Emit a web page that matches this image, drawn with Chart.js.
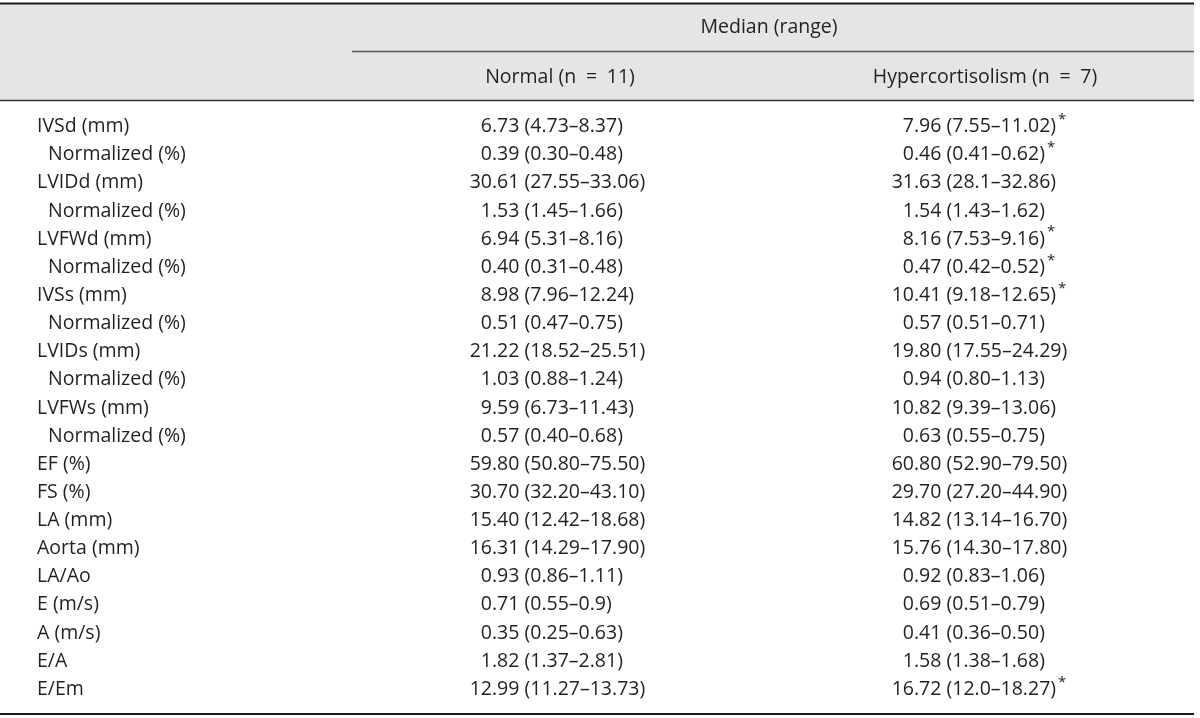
<!DOCTYPE html>
<html>
<head>
<meta charset="utf-8">
<script src="https://cdn.jsdelivr.net/npm/chart.js@4"></script>
<style>
  html, body { margin: 0; padding: 0; background: #fff; }
  #wrap { width: 1200px; height: 718px; position: relative; }
</style>
</head>
<body>
<div id="wrap"><canvas id="tbl"></canvas></div>
<script>
// ── Table data ──
const rowLabels = [
  "IVSd (mm)", "Normalized (%)", "LVIDd (mm)", "Normalized (%)",
  "LVFWd (mm)", "Normalized (%)", "IVSs (mm)", "Normalized (%)",
  "LVIDs (mm)", "Normalized (%)", "LVFWs (mm)", "Normalized (%)",
  "EF (%)", "FS (%)", "LA (mm)", "Aorta (mm)", "LA/Ao",
  "E (m/s)", "A (m/s)", "E/A", "E/Em"
];
const rowIndent = [0,1,0,1,0,1,0,1,0,1,0,1,0,0,0,0,0,0,0,0,0];

const normalMedian = ["6.73","0.39","30.61","1.53","6.94","0.40","8.98","0.51","21.22","1.03","9.59","0.57",
  "59.80","30.70","15.40","16.31","0.93","0.71","0.35","1.82","12.99"];
const normalLow  = ["4.73","0.30","27.55","1.45","5.31","0.31","7.96","0.47","18.52","0.88","6.73","0.40",
  "50.80","32.20","12.42","14.29","0.86","0.55","0.25","1.37","11.27"];
const normalHigh = ["8.37","0.48","33.06","1.66","8.16","0.48","12.24","0.75","25.51","1.24","11.43","0.68",
  "75.50","43.10","18.68","17.90","1.11","0.9","0.63","2.81","13.73"];

const hyperMedian = ["7.96","0.46","31.63","1.54","8.16","0.47","10.41","0.57","19.80","0.94","10.82","0.63",
  "60.80","29.70","14.82","15.76","0.92","0.69","0.41","1.58","16.72"];
const hyperLow  = ["7.55","0.41","28.1","1.43","7.53","0.42","9.18","0.51","17.55","0.80","9.39","0.55",
  "52.90","27.20","13.14","14.30","0.83","0.51","0.36","1.38","12.0"];
const hyperHigh = ["11.02","0.62","32.86","1.62","9.16","0.52","12.65","0.71","24.29","1.13","13.06","0.75",
  "79.50","44.90","16.70","17.80","1.06","0.79","0.50","1.68","18.27"];
const hyperStar = [1,1,0,0,1,1,1,0,0,0,0,0,0,0,0,0,0,0,0,0,1];

const spanHeader = "Median (range)";
const colHeaders = ["Normal (n\u2002=\u200211)", "Hypercortisolism (n\u2002=\u20027)"];

// ── Layout (pixels) ──
const FONT = "'Open Sans', sans-serif";
const FS = 19.5;
const INK = "#231f20";
const colX = { label: 37, indent: 48, normal: 492, hyper: 914 };

// one invisible point per cell, so positions come from the scales
const yCats = rowLabels.map((lab, i) => lab + "#" + i);
const cellPoints = (col) => yCats.map(c => ({ x: colX[col], y: c }));

const tablePlugin = {
  id: "tablePlugin",
  beforeDraw(chart) {
    const { ctx } = chart;
    const right = 1194;
    ctx.save();
    // header shading
    ctx.fillStyle = "#e5e5e5";
    ctx.fillRect(0, 4, right, 96);
    // rules
    ctx.strokeStyle = "#1a1a1a";
    ctx.lineWidth = 2.2;
    ctx.beginPath(); ctx.moveTo(0, 3.5); ctx.lineTo(right, 3.5); ctx.stroke();
    ctx.beginPath(); ctx.moveTo(0, 714); ctx.lineTo(right, 714); ctx.stroke();
    ctx.lineWidth = 1.5;
    ctx.strokeStyle = "#333";
    ctx.beginPath(); ctx.moveTo(0, 100.5); ctx.lineTo(right, 100.5); ctx.stroke();
    ctx.strokeStyle = "#555";
    ctx.beginPath(); ctx.moveTo(352, 51.5); ctx.lineTo(right, 51.5); ctx.stroke();

    ctx.fillStyle = INK;
    ctx.font = FS + "px " + FONT;
    ctx.textBaseline = "middle";
    ctx.textAlign = "center";
    ctx.fillText(spanHeader, 769, 27);
    ctx.fillText(colHeaders[0], 560, 77);
    ctx.fillText(colHeaders[1], 985, 77);
    ctx.restore();
  },
  afterDatasetsDraw(chart) {
    const { ctx } = chart;
    const ys = chart.scales.y;
    ctx.save();
    ctx.fillStyle = INK;
    ctx.textBaseline = "middle";
    ctx.font = FS + "px " + FONT;

    const drawVal = (x, y, med, lo, hi, star) => {
      const dot = med.indexOf(".");
      const intPart = med.slice(0, dot);
      const rest = med.slice(dot) + " (" + lo + "\u2013" + hi + ")";
      ctx.textAlign = "right";
      ctx.fillText(intPart, x, y);
      ctx.textAlign = "left";
      ctx.fillText(rest, x, y);
      if (star) {
        const w = ctx.measureText(rest).width;
        ctx.font = "15px " + FONT;
        ctx.fillText("*", x + w + 2, y - 7);
        ctx.font = FS + "px " + FONT;
      }
    };

    const lab = chart.getDatasetMeta(0).data;
    const nor = chart.getDatasetMeta(1).data;
    const hyp = chart.getDatasetMeta(2).data;
    rowLabels.forEach((label, i) => {
      const y = ys.getPixelForValue(i);
      ctx.textAlign = "left";
      ctx.fillText(label, rowIndent[i] ? colX.indent : lab[i].x, y);
      drawVal(nor[i].x, y, normalMedian[i], normalLow[i], normalHigh[i], 0);
      drawVal(hyp[i].x, y, hyperMedian[i], hyperLow[i], hyperHigh[i], hyperStar[i]);
    });
    ctx.restore();
  }
};

new Chart(document.getElementById("tbl"), {
  type: "scatter",
  data: {
    datasets: [
      { label: "label", data: cellPoints("label"), pointRadius: 0 },
      { label: "Normal", data: cellPoints("normal"), pointRadius: 0 },
      { label: "Hypercortisolism", data: cellPoints("hyper"), pointRadius: 0 }
    ]
  },
  options: {
    responsive: true, maintainAspectRatio: false, animation: false,
    layout: { padding: { top: 112.6, bottom: 14.6, left: 0, right: 0 } },
    plugins: { legend: { display: false }, tooltip: { enabled: false } },
    scales: {
      x: { type: "linear", min: 0, max: 1200, display: false },
      y: { type: "category", labels: yCats, offset: true, display: false }
    }
  },
  plugins: [tablePlugin]
});
</script>
</body>
</html>
